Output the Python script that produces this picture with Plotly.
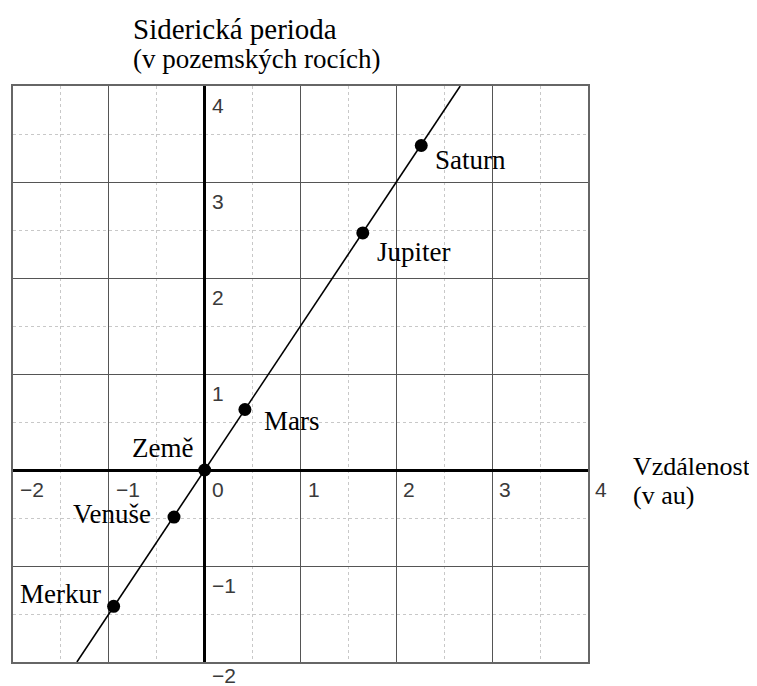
import plotly.graph_objects as go

# Data: natural logs of orbital distance (au) and sidereal period (years)
planets = ["Merkur", "Venuše", "Země", "Mars", "Jupiter", "Saturn"]
ln_distance = [-0.95, -0.32, 0.0, 0.42, 1.65, 2.26]
ln_period = [-1.42, -0.49, 0.0, 0.63, 2.47, 3.38]

line_x = [-1.333, 2.667]
line_y = [-2.0, 4.0]

x_ticks = [-2, -1, 0, 1, 2, 3, 4]
y_ticks = [4, 3, 2, 1, -1, -2]

# label placement (data coords), anchors
label_pos = {
    "Merkur": (-1.057, -1.295, "right"),
    "Venuše": (-0.536, -0.46, "right"),
    "Země": (-0.099, 0.226, "right"),
    "Mars": (0.599, 0.507, "left"),
    "Jupiter": (1.776, 2.268, "left"),
    "Saturn": (2.38, 3.226, "left"),
}

SERIF = "Liberation Serif"
SANS = "Liberation Sans"

# layout geometry (page has an 8px body margin)
W, H = 749, 678
ML, MT = 4.7, 77.7
PW, PH = 575.3, 576.0
MR = W - ML - PW
MB = H - MT - PH


def px_paper(px, py):
    return (px - 8 - ML) / PW, (MT + PH - (py - 8)) / PH


fig = go.Figure()
fig.add_trace(go.Scatter(x=line_x, y=line_y, mode="lines",
                         line=dict(color="black", width=1.6),
                         hoverinfo="skip", showlegend=False, cliponaxis=False))
fig.add_trace(go.Scatter(x=ln_distance, y=ln_period, mode="markers",
                         marker=dict(color="black", size=13),
                         text=planets, showlegend=False, cliponaxis=False))

annotations = []
for name in planets:
    x, y, anchor = label_pos[name]
    annotations.append(dict(x=x, y=y, xref="x", yref="y", text=name,
                            showarrow=False, xanchor=anchor, yanchor="middle",
                            font=dict(family=SERIF, size=27, color="black")))

tick_font = dict(family=SANS, size=21, color="#3a3a3a")
for t in x_ticks:
    annotations.append(dict(x=t, y=0, xref="x", yref="y",
                            text=str(t).replace("-", "\u2212"),
                            showarrow=False, xanchor="left", yanchor="top",
                            xshift=5, yshift=-6, font=tick_font))
for t in y_ticks:
    annotations.append(dict(x=0, y=t, xref="x", yref="y",
                            text=str(t).replace("-", "\u2212"),
                            showarrow=False, xanchor="left", yanchor="top",
                            xshift=5, yshift=(0 if t == -2 else -6),
                            font=tick_font))

side_texts = [
    ("Siderická perioda", 131, 29, 29),
    ("(v pozemských rocích)", 131, 59, 27),
    ("Vzdálenost", 631, 466, 26),
    ("(v au)", 631, 495, 26),
]
for text, px, py, size in side_texts:
    ax, ay = px_paper(px, py)
    annotations.append(dict(x=ax, y=ay, xref="paper", yref="paper", text=text,
                            showarrow=False, xanchor="left", yanchor="middle",
                            align="left",
                            font=dict(family=SERIF, size=size, color="black")))

axis_common = dict(range=[-2, 4], dtick=1, tick0=0, showticklabels=False,
                   ticks="", showgrid=True, gridcolor="#555", gridwidth=1.2,
                   zeroline=True, zerolinecolor="black", zerolinewidth=3,
                   showline=True, linecolor="#666", linewidth=1.5, mirror=True,
                   minor=dict(dtick=0.5, showgrid=True, gridcolor="#c8c8c8",
                              griddash="dot", gridwidth=1),
                   fixedrange=True)

fig.update_layout(
    width=W, height=H, autosize=False,
    margin=dict(l=ML, r=MR, t=MT, b=MB, pad=0),
    plot_bgcolor="white", paper_bgcolor="white",
    xaxis=axis_common, yaxis=axis_common,
    annotations=annotations,
)

fig.write_html("out.html")
